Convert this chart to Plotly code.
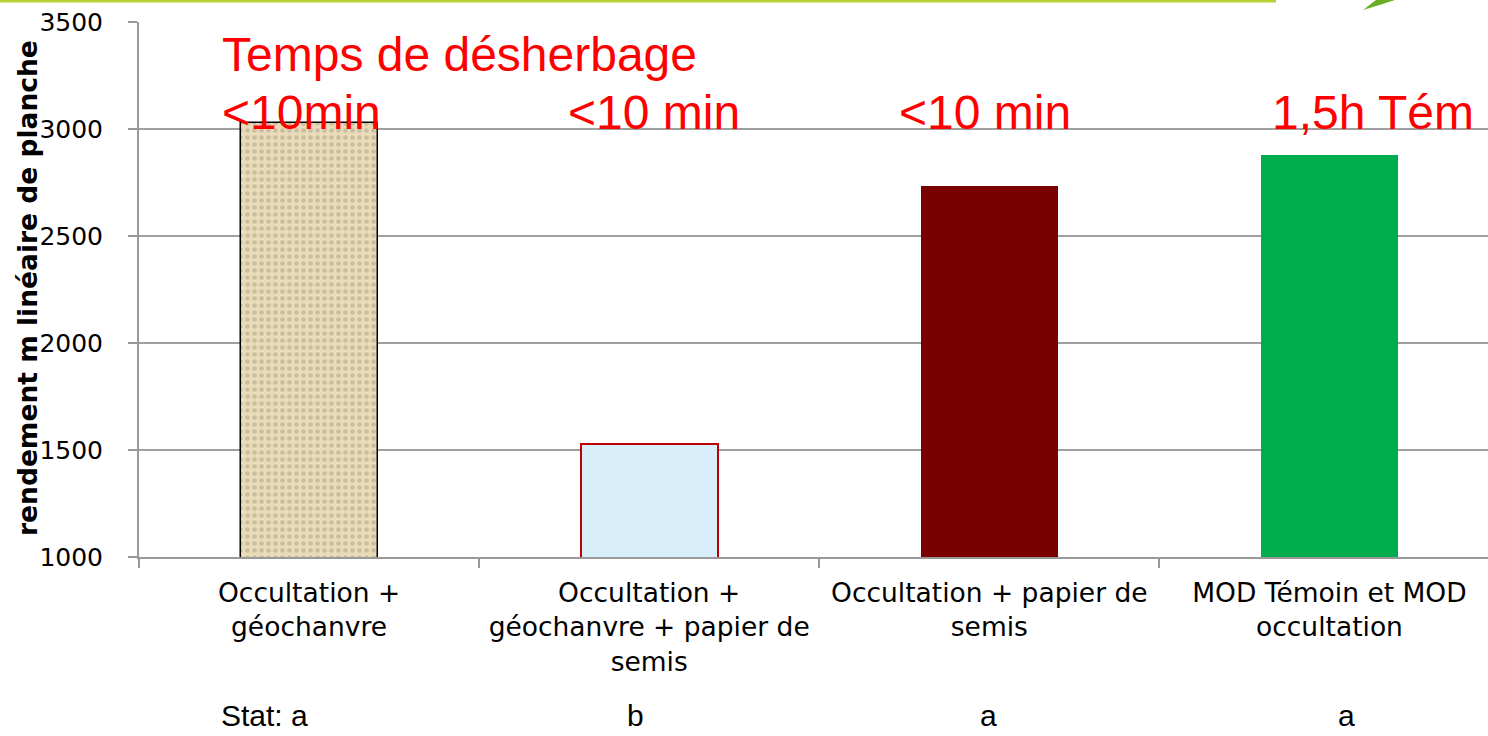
import plotly.graph_objects as go

# ---- data ----
categories = [
    "Occultation +<br>géochanvre",
    "Occultation +<br>géochanvre + papier de<br>semis",
    "Occultation + papier de<br>semis",
    "MOD Témoin et MOD<br>occultation",
]
rendement = [3028, 1528, 2734, 2879]
temps_labels = ["<10min", "<10 min", "<10 min", "1,5h Tém"]
stat_labels = ["Stat: a", "b", "a", "a"]
y_ticks = [1000, 1500, 2000, 2500, 3000, 3500]

# ---- styles ----
bar_colors = ["#EADBB9", "#D8EEFA", "#780000", "#00AD4E"]
bar_line_colors = ["#000000", "#C00000", "#780000", "#00AD4E"]
bar_line_widths = [1.5, 2, 0, 0]

W, H = 1488, 736
L, T, B = 139, 22, 179
PW = W - L
PH = H - T - B


def px(x):
    return (x - L) / PW


def py(y):
    return (H - B - y) / PH


fig = go.Figure()
fig.add_trace(go.Bar(
    x=categories,
    y=rendement,
    width=0.403,
    marker=dict(
        color=bar_colors,
        line=dict(color=bar_line_colors, width=bar_line_widths),
        pattern=dict(shape=[".", "", "", ""], fgcolor="#d8c8a2",
                     fgopacity=0.2, size=7, solidity=0.35),
    ),
    showlegend=False,
))

annotations = []
# y axis title
annotations.append(dict(
    text="<b>rendement m linéaire de planche</b>", xref="paper", yref="paper",
    x=px(27), y=py(288), xanchor="center", yanchor="middle", textangle=-90,
    showarrow=False, font=dict(family="DejaVu Sans", size=26.5, color="black"),
))
# red title text
red_font = dict(family="Liberation Sans, Arial", size=48, color="#FF0000")
annotations.append(dict(
    text="Temps de désherbage", xref="x", yref="paper",
    x=(220 - 309.5) / 340, y=py(55), xanchor="left", yanchor="middle",
    showarrow=False, font=red_font,
))
temps_x = [220, 566, 897, 1270]
for lbl, xp in zip(temps_labels, temps_x):
    annotations.append(dict(
        text=lbl, xref="x", yref="paper",
        x=(xp - 309.5) / 340, y=py(112), xanchor="left", yanchor="middle",
        showarrow=False, font=red_font,
    ))
# stat labels
stat_x = [220, 636, 989, 1347]
stat_anchor = ["left", "center", "center", "center"]
for lbl, xp, anc in zip(stat_labels, stat_x, stat_anchor):
    annotations.append(dict(
        text=lbl, xref="x", yref="paper",
        x=(xp - 309.5) / 340, y=py(715), xanchor=anc, yanchor="middle",
        showarrow=False, borderpad=0,
        font=dict(family="Liberation Sans, Arial", size=30, color="black"),
    ))

shapes = [
    # lime line at the top
    dict(type="line", xref="paper", yref="paper",
         x0=px(0), x1=px(1276), y0=py(1), y1=py(1),
         line=dict(color="#B5D334", width=3)),
    # leaf tip
    dict(type="path", xref="paper", yref="paper",
         path=(f"M {px(1363)},{py(10)} L {px(1376)},{py(0)} L {px(1395)},{py(0)} "
               f"Q {px(1380)},{py(5)} {px(1363)},{py(10)} Z"),
         fillcolor="#6AAF23", line=dict(width=0)),
]

fig.update_layout(
    width=W, height=H,
    autosize=False,
    margin=dict(l=L, r=0, t=T, b=B, pad=0),
    paper_bgcolor="white",
    plot_bgcolor="white",
    bargap=0,
    annotations=annotations,
    shapes=shapes,
    xaxis=dict(
        type="category",
        range=[-0.5, (W - 309.5) / 340],
        tickson="boundaries",
        ticks="outside", ticklen=9, tickwidth=2, tickcolor="#999999",
        showline=True, linecolor="#999999", linewidth=2,
        showgrid=False,
        tickfont=dict(family="DejaVu Sans", size=26.5, color="black"),
        ticklabelstandoff=11,
    ),
    yaxis=dict(
        range=[1000, 3500],
        tickvals=y_ticks,
        ticks="outside", ticklen=9, tickwidth=2, tickcolor="#999999",
        showline=True, linecolor="#999999", linewidth=2,
        showgrid=True, gridcolor="#9f9f9f", gridwidth=2,
        zeroline=False,
        tickfont=dict(family="DejaVu Sans", size=25, color="black"),
        ticklabelstandoff=20,
    ),
)

fig.write_html(
    "out.html",
    config={"displayModeBar": False},
    post_script="document.body.style.margin='0';document.body.style.overflow='hidden';",
)
